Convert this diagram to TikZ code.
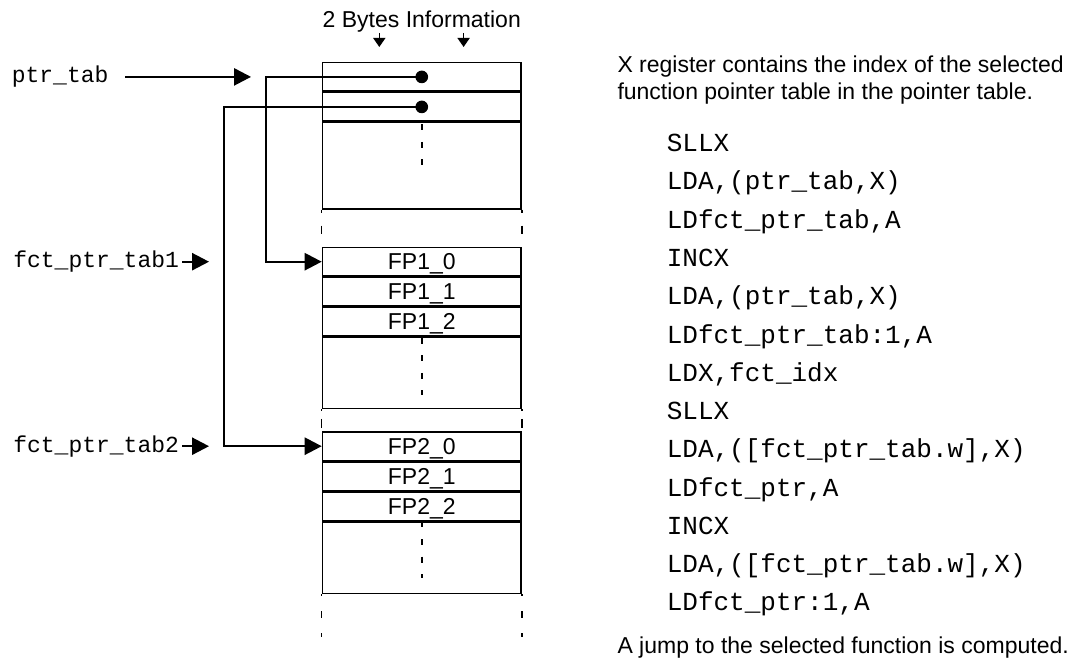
\documentclass[tikz,border=0pt]{standalone}
\usepackage{fontspec}
\setmainfont{Liberation Sans}
\setsansfont{Liberation Sans}
\setmonofont{Liberation Mono}
\usetikzlibrary{positioning}
\usetikzlibrary{arrows.meta}

\begin{document}
\begin{tikzpicture}[
            x=0.75pt, y=-0.75pt, line width=1.2pt,
            note/.style={font=\sffamily\fontsize{17.25}{20}\selectfont, inner sep=0pt, anchor=base west},
            lbl/.style={font=\ttfamily\fontsize{17.25}{20}\selectfont, inner sep=0pt, anchor=west},
            code/.style={font=\ttfamily\fontsize{19.5}{27.5}\selectfont, inner sep=0pt, text height=20pt, text depth=7.5pt, anchor=base west},
            codeline/.style={code, anchor=north west},
            row/.style={rectangle, draw, inner sep=0pt, minimum width=148.9pt, minimum height=21.3pt, font=\sffamily\fontsize{17.25}{20}\selectfont, text height=12.4pt, text depth=0pt},
            blank/.style={row, minimum height=53.3pt},
            dot/.style={circle, fill, inner sep=0pt, minimum size=9.5pt},
            ptrarrow/.style={-{Triangle[length=12.75pt, width=13pt]}},
            tick/.style={-{Triangle[length=6.75pt, width=9pt]}},
            midgap/.style={dash pattern=on 4.5pt off 8.7pt}
        ]
            \path[use as bounding box] (0,0) rectangle (1073,659);

            \node[note, anchor=base] (bytes) at (421.75,27.3) {2 Bytes Information};
            \coordinate (tick1) at (379.3,47);
            \coordinate (tick2) at (463.6,47);

            \node[row](t1a) at (421.75,76.9) {};
                \node[row](t1b)[below=0pt of t1a]{};
                \node[blank, minimum height=64.6pt](t1c)[below=0pt of t1b]{};

            \node[row](t2a) at (421.75,261.7) {FP1\_0};
                \node[row](t2b)[below=0pt of t2a]{FP1\_1};
                \node[row](t2c)[below=0pt of t2b]{FP1\_2};
                \node[blank](t2d)[below=0pt of t2c]{};

            \node[row](t3a) at (421.75,446.2) {FP2\_0};
                \node[row](t3b)[below=0pt of t3a]{FP2\_1};
                \node[row](t3c)[below=0pt of t3b]{FP2\_2};
                \node[blank, minimum height=53.5pt](t3d)[below=0pt of t3c]{};

            \node[dot](d1) at (t1a) {};
            \node[dot](d2) at (t1b) {};
            \coordinate (bend1) at (266,0);
            \coordinate (bend2) at (224,0);

            \node[lbl](ptrlbl) at (11,76.9) {ptr\_tab};
            \node[lbl](fct1) at (12.5,261.7) {fct\_ptr\_tab1};
            \node[lbl](fct2) at (12.5,446.2) {fct\_ptr\_tab2};
            \coordinate (ptrend) at (251,76.9);
            \coordinate (fct1end) at (209,261.7);
            \coordinate (fct2end) at (209,446.2);

            \node[note](note1) at (616.7,72.7) {X register contains the index of the selected};
            \node[note](note2) at (616.7,100) {function pointer table in the pointer table.};
            \node[note](note3) at (616.7,653.5) {A jump to the selected function is computed.};

            \node[code](c1) at (666,151.7) {SLLX};
                \node[below=0pt of c1.south west, codeline](c2) {LDA,(ptr\_tab,X)};
                \node[below=0pt of c2.south west, codeline](c3) {LDfct\_ptr\_tab,A};
                \node[below=0pt of c3.south west, codeline](c4) {INCX};
                \node[below=0pt of c4.south west, codeline](c5) {LDA,(ptr\_tab,X)};
                \node[below=0pt of c5.south west, codeline](c6) {LDfct\_ptr\_tab:1,A};
                \node[below=0pt of c6.south west, codeline](c7) {LDX,fct\_idx};
                \node[below=0pt of c7.south west, codeline](c8) {SLLX};
                \node[below=0pt of c8.south west, codeline](c9) {LDA,([fct\_ptr\_tab.w],X)};
                \node[below=0pt of c9.south west, codeline](c10) {LDfct\_ptr,A};
                \node[below=0pt of c10.south west, codeline](c11) {INCX};
                \node[below=0pt of c11.south west, codeline](c12) {LDA,([fct\_ptr\_tab.w],X)};
                \node[below=0pt of c12.south west, codeline](c13) {LDfct\_ptr:1,A};

            \draw[tick] (bytes.south -| tick1) -- (tick1);
            \draw[tick] (bytes.south -| tick2) -- (tick2);

            \draw[ptrarrow, shorten <=12pt] (ptrlbl) -- (ptrend);
            \draw[ptrarrow, shorten <=2pt] (fct1) -- (fct1end);
            \draw[ptrarrow, shorten <=2pt] (fct2) -- (fct2end);

            \draw[ptrarrow] (d1.center) -- (d1.center -| bend1) |- (t2a.west);
            \draw[ptrarrow] (d2.center) -- (d2.center -| bend2) |- (t3a.west);

            \draw[midgap, dash phase=11.5pt] (t1c.north) -- ++(0,44);
            \draw[midgap, dash phase=12.5pt] (t2d.north) -- ++(0,58);
            \draw[midgap, dash phase=13pt] (t3d.north) -- ++(0,57);

            \draw[dash pattern=on 2.25pt off 9.75pt on 6pt off 11.25pt on 2.25pt] (t1c.south west) -- (t2a.north west);
            \draw[dash pattern=on 2.25pt off 9.75pt on 6pt off 11.25pt on 2.25pt] (t1c.south east) -- (t2a.north east);
            \draw[dash pattern=on 1.5pt off 5.7pt on 6.75pt off 4.5pt on 2.75pt] (t2d.south west) -- (t3a.north west);
            \draw[dash pattern=on 1.5pt off 5.7pt on 6.75pt off 4.5pt on 2.75pt] (t2d.south east) -- (t3a.north east);
            \draw[dash pattern=on 1.5pt off 11.25pt on 5.25pt off 11.25pt on 3pt off 40pt] (t3d.south west) -- ++(0,43);
            \draw[dash pattern=on 1.5pt off 11.25pt on 5.25pt off 11.25pt on 3pt off 40pt] (t3d.south east) -- ++(0,43);
        \end{tikzpicture}
\end{document}
